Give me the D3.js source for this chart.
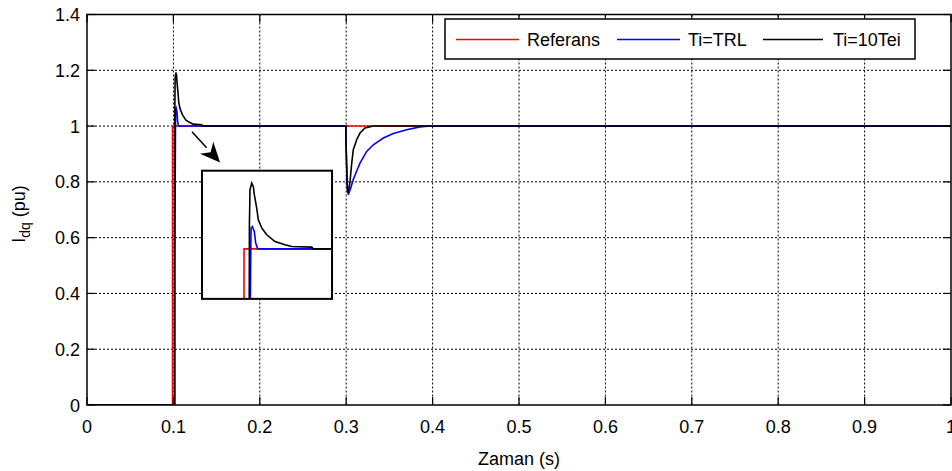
<!DOCTYPE html>
<html><head><meta charset="utf-8">
<script src="https://cdn.jsdelivr.net/npm/d3@7"></script>
<style>
html,body{margin:0;padding:0;background:#fff;}
text{font-family:"Liberation Sans",Arial,sans-serif;fill:#000;}
</style></head>
<body><svg id="c" width="952" height="471"></svg>
<script>
// ---- data ----
const xTicks = [0,0.1,0.2,0.3,0.4,0.5,0.6,0.7,0.8,0.9,1];
const xTickLabels = ["0","0.1","0.2","0.3","0.4","0.5","0.6","0.7","0.8","0.9","1"];
const yTicks = [0,0.2,0.4,0.6,0.8,1,1.2,1.4];
const yTickLabels = ["0","0.2","0.4","0.6","0.8","1","1.2","1.4"];
const seriesNames = ["Referans","Ti=TRL","Ti=10Tei"];

const refT = [0, 0.099, 0.099, 1.0];
const refV = [0, 0, 1, 1];

const trlT = [0, 0.1015, 0.1016, 0.1025, 0.10315, 0.10415, 0.10485, 0.10585,
  0.2995, 0.2998, 0.3010, 0.3024, 0.3050, 0.3082, 0.3120, 0.3160, 0.3237, 0.3314, 0.3430, 0.3545, 0.3700, 0.3854, 0.3970, 1.0];
const trlV = [0, 0, 0.5, 1.06, 1.065, 1.051, 1.017, 1.0,
  1.0, 0.94, 0.80, 0.754, 0.775, 0.808, 0.838, 0.867, 0.909, 0.933, 0.957, 0.973, 0.987, 0.997, 1.0, 1.0];

const teiT = [0, 0.1015, 0.1015, 0.1017, 0.1020, 0.10285, 0.10365, 0.10415, 0.10535, 0.10615, 0.10785, 0.11035, 0.1145, 0.1195, 0.12285, 0.13285, 0.13365,
  0.2995, 0.2998, 0.3013, 0.3024, 0.3044, 0.3064, 0.3082, 0.3121, 0.3160, 0.3218, 0.3314, 1.0];
const teiV = [0, 0, 0.55, 1.07, 1.1725, 1.192, 1.182, 1.158, 1.119, 1.085, 1.061, 1.041, 1.021, 1.012, 1.007, 1.005, 1.0,
  1.0, 0.94, 0.772, 0.760, 0.800, 0.867, 0.915, 0.951, 0.975, 0.993, 1.0, 1.0];

// inset (zoomed view) domains and its placement in main-data units
const insetXDomain = [0.078, 0.143];
const insetYDomain = [0.854, 1.228];
const insetBoxX = [0.1331, 0.2836];
const insetBoxY = [0.3805, 0.84];
// arrow annotation in main-data units [start, tip]
const arrowT = [0.1215, 0.154];
const arrowV = [0.98, 0.869];

// ---- layout ----
const svg = d3.select("#c");
const L = 87, R = 951, T = 14.5, B = 405;
const x = d3.scaleLinear().domain([0,1]).range([L,R]);
const y = d3.scaleLinear().domain([0,1.4]).range([B,T]);
const FS = 18;

svg.append("defs").append("clipPath").attr("id","mainclip")
  .append("rect").attr("x",L).attr("y",T).attr("width",R-L).attr("height",B-T);

// grid
const grid = svg.append("g").attr("stroke","#000").attr("stroke-width",1).attr("stroke-dasharray","2,2");
xTicks.slice(1,-1).forEach(v=>grid.append("line").attr("x1",x(v)).attr("x2",x(v)).attr("y1",T).attr("y2",B));
yTicks.slice(1,-1).forEach(v=>grid.append("line").attr("y1",y(v)).attr("y2",y(v)).attr("x1",L).attr("x2",R));

const colors = ["#ff0000","#0000ff","#000000"];
const sets = [[refT,refV],[trlT,trlV],[teiT,teiV]];
function drawLines(g, sx, sy, clip){
  const line = d3.line().x(d=>sx(d[0])).y(d=>sy(d[1]));
  sets.forEach((s,i)=>{
    const pts = s[0].map((t,k)=>[t,s[1][k]]);
    g.append("path").attr("d",line(pts)).attr("fill","none")
      .attr("stroke",colors[i]).attr("stroke-width",1.6).attr("clip-path",`url(#${clip})`);
  });
}
drawLines(svg.append("g"), x, y, "mainclip");

// frame
svg.append("rect").attr("x",L).attr("y",T).attr("width",R-L).attr("height",B-T)
  .attr("fill","none").attr("stroke","#000").attr("stroke-width",1.5);

// ticks inward on all sides
const tk = svg.append("g").attr("stroke","#000").attr("stroke-width",1.2);
const TL = 8;
xTicks.forEach(v=>{
  tk.append("line").attr("x1",x(v)).attr("x2",x(v)).attr("y1",B).attr("y2",B-TL);
  tk.append("line").attr("x1",x(v)).attr("x2",x(v)).attr("y1",T).attr("y2",T+TL);
});
yTicks.forEach(v=>{
  tk.append("line").attr("y1",y(v)).attr("y2",y(v)).attr("x1",L).attr("x2",L+TL);
  tk.append("line").attr("y1",y(v)).attr("y2",y(v)).attr("x1",R).attr("x2",R-TL);
});

// tick labels
xTicks.forEach((v,i)=>svg.append("text").attr("x",x(v)).attr("y",433)
  .attr("text-anchor","middle").attr("font-size",FS).text(xTickLabels[i]));
yTicks.forEach((v,i)=>svg.append("text").attr("x",80).attr("y",y(v)+6.5)
  .attr("text-anchor","end").attr("font-size",FS).text(yTickLabels[i]));

// axis labels
svg.append("text").attr("x",(L+R)/2).attr("y",465).attr("text-anchor","middle")
  .attr("font-size",FS).text("Zaman (s)");
const yl = svg.append("text").attr("transform","translate(25,214) rotate(-90)")
  .attr("text-anchor","middle").attr("font-size",FS);
yl.append("tspan").text("I");
yl.append("tspan").attr("font-size",14).attr("dy",5).text("dq");
yl.append("tspan").attr("dy",-5).text(" (pu)");

// legend
const lg = svg.append("g");
lg.append("rect").attr("x",445).attr("y",19).attr("width",470).attr("height",40)
  .attr("fill","#fff").attr("stroke","#000").attr("stroke-width",1.5);
const legLine = [[456,519],[617,680],[763,823]];
const legText = [527,688,833];
seriesNames.forEach((n,i)=>{
  lg.append("line").attr("x1",legLine[i][0]).attr("x2",legLine[i][1]).attr("y1",39.5).attr("y2",39.5)
    .attr("stroke",colors[i]).attr("stroke-width",1.6);
  lg.append("text").attr("x",legText[i]).attr("y",46).attr("font-size",FS).text(n);
});

// inset
const ix0 = x(insetBoxX[0]), ix1 = x(insetBoxX[1]), iy0 = y(insetBoxY[1]), iy1 = y(insetBoxY[0]);
const xi = d3.scaleLinear().domain(insetXDomain).range([ix0,ix1]);
const yi = d3.scaleLinear().domain(insetYDomain).range([iy1,iy0]);
svg.select("defs").append("clipPath").attr("id","insetclip")
  .append("rect").attr("x",ix0).attr("y",iy0).attr("width",ix1-ix0).attr("height",iy1-iy0);
svg.append("rect").attr("x",ix0).attr("y",iy0).attr("width",ix1-ix0).attr("height",iy1-iy0)
  .attr("fill","#fff");
drawLines(svg.append("g"), xi, yi, "insetclip");
svg.append("rect").attr("x",ix0).attr("y",iy0).attr("width",ix1-ix0).attr("height",iy1-iy0)
  .attr("fill","none").attr("stroke","#000").attr("stroke-width",2);

// arrow
const ax0 = x(arrowT[0]), ay0 = y(arrowV[0]), ax1 = x(arrowT[1]), ay1 = y(arrowV[1]);
const ang = Math.atan2(ay1-ay0, ax1-ax0);
const hl = 20, hw = 9;
const bx = ax1 - hl*Math.cos(ang), by = ay1 - hl*Math.sin(ang);
svg.append("line").attr("x1",ax0).attr("y1",ay0).attr("x2",bx).attr("y2",by)
  .attr("stroke","#000").attr("stroke-width",1.5);
svg.append("path").attr("d",d3.line()([
  [ax1,ay1],
  [bx + hw*Math.sin(ang), by - hw*Math.cos(ang)],
  [ax1 - 0.7*hl*Math.cos(ang), ay1 - 0.7*hl*Math.sin(ang)],
  [bx - hw*Math.sin(ang), by + hw*Math.cos(ang)]
])+"Z").attr("fill","#000");
</script></body></html>
